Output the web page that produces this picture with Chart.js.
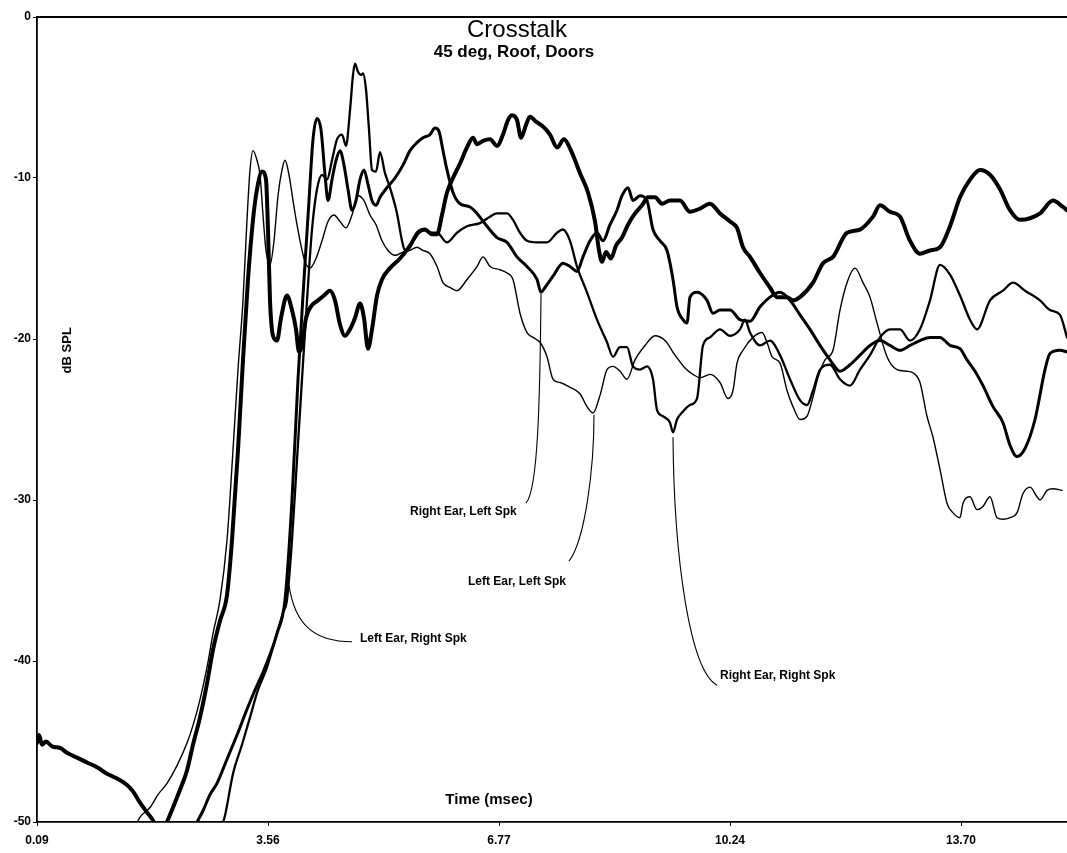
<!DOCTYPE html>
<html><head><meta charset="utf-8">
<script src="https://cdn.jsdelivr.net/npm/chart.js@4/dist/chart.umd.min.js"></script>
<style>html,body{margin:0;padding:0;background:#fff}#wrap{width:1067px;height:853px;position:relative}</style>
</head><body><div id="wrap"><canvas id="c"></canvas></div>
<script>
// Tick labels of the time axis (one label every samplesPerLabel samples)
const tickLabels = ['0.09', '3.56', '6.77', '10.24', '13.70'];
const samplesPerLabel = 231;
const sampleCount = 1030;
const yTickValues = [0, -10, -20, -30, -40, -50];

// Series: [sample index, dB SPL]
const leftEarRightSpk = [[0,-45.1],[2,-44.6],[5,-45.2],[9,-45.0],[15,-45.3],[23,-45.4],[30,-45.7],[40,-46.0],[50,-46.3],[60,-46.6],[70,-47.0],[80,-47.3],[90,-47.7],[96,-48.1],[103,-48.8],[110,-49.4],[116,-49.9],[121,-50.6],[126,-50.6],[130,-50.0],[136,-49.1],[143,-48.0],[150,-46.8],[156,-45.2],[163,-43.5],[170,-41.4],[176,-39.3],[183,-37.5],[190,-35.9],[195,-32.5],[201,-26.9],[206,-21.3],[211,-16.3],[216,-12.6],[220,-10.7],[225,-9.6],[229,-10.1],[231,-13.2],[233,-17.6],[236,-19.8],[240,-20.1],[244,-18.7],[250,-17.3],[255,-18.2],[259,-19.4],[262,-20.8],[265,-20.4],[269,-18.7],[275,-17.9],[281,-17.6],[287,-17.3],[293,-17.0],[298,-17.6],[303,-19.1],[308,-19.8],[313,-19.4],[318,-18.7],[323,-17.8],[327,-18.7],[331,-20.6],[335,-19.4],[340,-17.3],[345,-16.3],[353,-15.6],[363,-15.0],[373,-14.2],[381,-13.4],[388,-13.2],[395,-13.5],[400,-13.5],[405,-12.3],[410,-10.9],[416,-10.0],[423,-9.1],[430,-8.1],[436,-7.5],[440,-7.9],[446,-7.7],[453,-7.6],[460,-8.0],[466,-7.3],[471,-6.4],[475,-6.1],[480,-6.4],[484,-7.5],[489,-6.7],[493,-6.2],[499,-6.5],[506,-6.8],[513,-7.3],[520,-8.1],[527,-7.6],[534,-8.3],[543,-9.7],[551,-10.9],[558,-12.7],[562,-14.5],[565,-15.2],[569,-14.6],[574,-15.0],[579,-14.2],[585,-13.7],[591,-12.9],[598,-12.2],[605,-11.7],[611,-11.2],[618,-11.2],[625,-11.6],[633,-11.4],[643,-11.4],[653,-12.1],[663,-11.9],[673,-11.6],[683,-12.2],[693,-12.7],[700,-13.1],[706,-14.3],[713,-14.9],[723,-15.9],[733,-16.8],[740,-17.4],[750,-17.4],[756,-17.6],[763,-17.4],[776,-16.5],[786,-15.3],[796,-14.9],[810,-13.4],[823,-13.2],[836,-12.4],[843,-11.7],[853,-12.1],[863,-12.4],[873,-13.9],[883,-14.7],[893,-14.5],[903,-14.3],[913,-13.0],[923,-11.2],[933,-10.1],[943,-9.5],[953,-9.8],[963,-10.7],[973,-12.0],[983,-12.6],[993,-12.5],[1003,-12.2],[1016,-11.4],[1026,-11.8],[1030,-12.0]];

const rightEarLeftSpk = [[155,-50.6],[160,-50.0],[166,-49.3],[173,-48.3],[180,-47.6],[190,-46.1],[200,-44.6],[210,-43.0],[218,-41.8],[226,-40.7],[233,-39.6],[240,-38.3],[248,-36.2],[255,-30.0],[261,-22.5],[267,-16.3],[272,-11.4],[276,-7.6],[280,-6.3],[284,-7.0],[288,-9.8],[291,-11.4],[295,-10.1],[299,-8.9],[303,-8.3],[307,-9.2],[311,-10.7],[315,-12.0],[319,-11.4],[323,-10.1],[327,-9.5],[331,-10.4],[335,-11.4],[339,-11.7],[343,-11.2],[350,-10.6],[358,-10.0],[366,-9.2],[373,-8.3],[380,-7.8],[386,-7.5],[393,-7.3],[398,-6.9],[402,-7.1],[406,-8.3],[410,-9.5],[416,-10.9],[423,-11.6],[433,-11.8],[440,-12.2],[450,-13.0],[460,-13.7],[470,-14.0],[480,-14.9],[490,-15.5],[500,-16.3],[504,-17.1],[508,-16.8],[516,-16.1],[526,-15.3],[533,-15.5],[540,-15.8],[546,-14.9],[553,-13.9],[560,-13.4],[566,-13.9],[573,-12.9],[580,-12.0],[585,-11.1],[591,-10.6],[596,-11.4],[603,-11.1],[610,-11.4],[616,-13.2],[623,-13.9],[630,-14.5],[636,-16.3],[640,-18.0],[646,-18.8],[650,-19.0],[653,-17.4],[660,-17.1],[670,-17.6],[676,-18.4],[683,-18.2],[693,-18.2],[703,-18.8],[713,-18.9],[723,-18.0],[733,-17.4],[743,-17.1],[753,-17.6],[763,-18.5],[773,-19.4],[783,-20.4],[793,-21.3],[803,-22.0],[813,-21.6],[823,-21.0],[833,-20.4],[843,-20.1],[853,-20.4],[863,-20.7],[873,-20.4],[883,-20.1],[893,-19.9],[903,-19.9],[913,-20.4],[923,-20.6],[930,-21.3],[938,-22.0],[946,-22.9],[956,-24.2],[966,-25.2],[973,-26.6],[980,-27.3],[988,-26.8],[998,-25.0],[1008,-21.9],[1013,-20.9],[1023,-20.7],[1030,-20.8]];

const rightEarRightSpk = [[183,-50.6],[188,-49.6],[196,-47.0],[205,-45.2],[213,-43.5],[221,-41.8],[230,-40.4],[238,-38.7],[246,-37.0],[250,-36.2],[255,-32.5],[260,-27.5],[265,-22.5],[270,-17.6],[275,-13.2],[280,-10.7],[285,-9.8],[290,-10.1],[295,-8.9],[300,-7.6],[305,-7.3],[309,-8.0],[313,-5.8],[316,-3.6],[318,-2.9],[321,-3.4],[324,-3.6],[326,-3.5],[329,-4.5],[332,-7.0],[335,-9.5],[339,-9.6],[343,-8.4],[348,-9.7],[353,-10.6],[360,-12.2],[365,-13.9],[368,-14.5],[373,-14.3],[380,-13.4],[386,-13.2],[393,-13.4],[400,-13.4],[410,-14.0],[420,-13.4],[430,-13.0],[443,-12.8],[453,-12.4],[460,-12.2],[470,-12.2],[476,-12.6],[483,-13.4],[490,-13.9],[500,-14.0],[510,-14.0],[520,-13.4],[526,-13.2],[533,-13.9],[540,-15.5],[550,-17.1],[560,-18.8],[570,-20.2],[576,-21.1],[583,-20.5],[590,-20.5],[596,-21.7],[603,-21.9],[610,-21.7],[616,-22.5],[620,-24.4],[626,-24.8],[633,-25.2],[636,-25.8],[640,-25.0],[646,-24.5],[653,-24.1],[660,-23.7],[666,-20.4],[673,-19.9],[683,-19.4],[693,-19.8],[703,-19.4],[708,-18.8],[713,-19.6],[723,-20.4],[733,-20.1],[743,-21.0],[753,-22.5],[763,-23.8],[770,-24.1],[776,-23.2],[783,-21.9],[793,-21.6],[803,-22.5],[813,-22.9],[823,-21.9],[833,-21.0],[843,-19.9],[853,-19.4],[863,-19.4],[873,-20.1],[883,-19.4],[893,-17.6],[903,-15.4],[913,-16.0],[923,-17.3],[933,-18.8],[940,-19.4],[953,-17.6],[966,-17.0],[976,-16.5],[988,-17.0],[1003,-17.6],[1013,-18.2],[1023,-18.5],[1030,-19.9]];

const leftEarLeftSpk = [[96,-50.6],[103,-49.7],[113,-49.1],[121,-48.3],[130,-47.6],[140,-46.5],[150,-45.1],[156,-44.0],[163,-42.4],[170,-40.4],[176,-38.3],[183,-36.2],[190,-32.5],[196,-26.9],[201,-21.9],[206,-17.6],[210,-12.6],[213,-9.5],[216,-8.3],[220,-8.9],[223,-9.8],[226,-12.3],[229,-14.5],[233,-15.4],[237,-13.9],[241,-11.1],[245,-9.5],[248,-8.9],[252,-9.8],[256,-11.4],[260,-12.9],[264,-14.2],[268,-15.2],[273,-15.6],[279,-15.0],[285,-13.9],[291,-12.7],[297,-12.3],[303,-12.7],[309,-13.1],[315,-12.3],[321,-11.1],[327,-11.4],[333,-12.3],[339,-12.9],[345,-13.9],[351,-14.5],[358,-14.8],[366,-14.6],[373,-14.5],[380,-14.3],[386,-14.5],[393,-14.7],[400,-15.5],[406,-16.5],[413,-16.8],[420,-17.0],[430,-16.3],[440,-15.5],[446,-14.9],[453,-15.5],[463,-15.7],[470,-15.9],[476,-16.3],[483,-18.4],[490,-19.6],[496,-19.9],[503,-20.2],[510,-21.1],[516,-22.5],[523,-22.7],[533,-23.0],[543,-23.4],[550,-24.2],[556,-24.6],[563,-23.5],[570,-21.9],[576,-21.7],[583,-22.0],[590,-22.5],[598,-21.3],[608,-20.4],[618,-19.8],[628,-20.1],[638,-21.0],[648,-21.8],[656,-22.2],[663,-22.4],[673,-22.2],[683,-22.7],[691,-23.7],[696,-23.2],[700,-21.5],[706,-20.7],[716,-19.9],[725,-19.6],[730,-20.2],[735,-21.1],[743,-21.5],[750,-23.2],[756,-24.2],[763,-25.0],[770,-24.8],[776,-23.6],[781,-22.4],[788,-21.3],[796,-20.7],[803,-18.2],[810,-16.5],[818,-15.6],[826,-16.5],[833,-17.4],[840,-19.0],[850,-21.1],[860,-21.9],[870,-22.0],[876,-22.1],[883,-22.7],[890,-24.8],[896,-26.1],[903,-28.1],[910,-30.2],[916,-30.8],[923,-31.1],[926,-30.2],[933,-29.8],[940,-30.6],[946,-30.4],[953,-29.8],[960,-31.1],[966,-31.2],[973,-31.1],[980,-30.8],[986,-29.6],[993,-29.2],[1000,-29.8],[1003,-30.0],[1010,-29.4],[1016,-29.3],[1025,-29.4]];

// Callout labels with their leader curves, in data units [sample, dB]
const callouts = [
  { text: 'Right Ear, Left Spk',  at: [373, -30.7], from: [489, -30.2], c1: [501, -29.4], c2: [503, -23.8], to: [504, -17.2] },
  { text: 'Left Ear, Left Spk',   at: [431, -35.1], from: [532, -33.8], c1: [548, -32.5], c2: [557, -28.1], to: [557, -24.7] },
  { text: 'Left Ear, Right Spk',  at: [323, -38.6], from: [315, -38.8], c1: [278, -38.8], c2: [258, -37.8], to: [252, -35.3] },
  { text: 'Right Ear, Right Spk', at: [683, -40.9], from: [680, -41.5], c1: [653, -40.6], c2: [637, -33.7], to: [636, -26.1] }
];

const FONT = "'Liberation Sans', Arial, Helvetica, sans-serif";

const decor = {
  id: 'decor',
  afterDraw(chart) {
    const { ctx, chartArea: a, scales: { x, y } } = chart;
    const P = p => [x.getPixelForValue(p[0]), y.getPixelForValue(p[1])];
    ctx.save();
    ctx.strokeStyle = '#000';
    ctx.fillStyle = '#000';
    ctx.lineWidth = 1.8;
    ctx.beginPath(); ctx.moveTo(a.left, a.top); ctx.lineTo(a.right, a.top); ctx.stroke();
    ctx.lineWidth = 1.1;
    callouts.forEach(c => {
      const f = P(c.from), c1 = P(c.c1), c2 = P(c.c2), t = P(c.to);
      ctx.beginPath(); ctx.moveTo(f[0], f[1]);
      ctx.bezierCurveTo(c1[0], c1[1], c2[0], c2[1], t[0], t[1]);
      ctx.stroke();
      ctx.font = 'bold 12px ' + FONT;
      ctx.textAlign = 'left'; ctx.textBaseline = 'middle';
      const tp = P(c.at);
      ctx.fillText(c.text, tp[0], tp[1]);
    });
    // axis titles inside the plot
    const yt = P([30, -20.7]);
    ctx.save();
    ctx.translate(yt[0], yt[1]); ctx.rotate(-Math.PI / 2);
    ctx.font = 'bold 13px ' + FONT; ctx.textAlign = 'center'; ctx.textBaseline = 'middle';
    ctx.fillText('dB SPL', 0, 0);
    ctx.restore();
    const xt = P([452, -48.6]);
    ctx.font = 'bold 15px ' + FONT; ctx.textAlign = 'center'; ctx.textBaseline = 'middle';
    ctx.fillText('Time (msec)', xt[0], xt[1]);
    // title
    ctx.textAlign = 'center'; ctx.textBaseline = 'alphabetic';
    ctx.font = '24px ' + FONT;
    ctx.fillText('Crosstalk', 517, 37);
    ctx.font = 'bold 17px ' + FONT;
    ctx.fillText('45 deg, Roof, Doors', 514, 57);
    ctx.restore();
  }
};

const mk = (label, arr, w) => ({
  label, data: arr.map(([sx, db]) => ({ x: sx, y: db })),
  borderColor: '#000', backgroundColor: '#000', borderWidth: w,
  pointRadius: 0, cubicInterpolationMode: 'monotone',
  borderJoinStyle: 'round', borderCapStyle: 'round', fill: false
});

new Chart(document.getElementById('c'), {
  type: 'line',
  data: {
    datasets: [
      mk('Left Ear, Right Spk', leftEarRightSpk, 4),
      mk('Right Ear, Left Spk', rightEarLeftSpk, 3),
      mk('Right Ear, Right Spk', rightEarRightSpk, 2.3),
      mk('Left Ear, Left Spk', leftEarLeftSpk, 1.4)
    ]
  },
  options: {
    responsive: true, maintainAspectRatio: false, animation: false,
    devicePixelRatio: 1,
    layout: { padding: { top: 17, left: 0, right: 0, bottom: 0 } },
    plugins: { legend: { display: false }, tooltip: { enabled: false }, title: { display: false } },
    scales: {
      x: {
        type: 'linear', min: 0, max: sampleCount,
        afterBuildTicks: s => { s.ticks = tickLabels.map((_, i) => ({ value: i * samplesPerLabel })); },
        afterFit: s => { s.height = 31; },
        ticks: { autoSkip: false, maxRotation: 0, padding: 7, color: '#000',
          font: { family: FONT, size: 12, weight: 'bold' },
          callback: v => tickLabels[Math.round(v / samplesPerLabel)] ?? '' },
        grid: { drawOnChartArea: false, drawTicks: true, tickLength: 4, color: '#000' },
        border: { display: true, color: '#000', width: 1.8 }
      },
      y: {
        min: -50, max: 0,
        afterBuildTicks: s => { s.ticks = yTickValues.map(v => ({ value: v })); },
        afterFit: s => { s.width = 37; },
        ticks: { padding: 2, color: '#000', font: { family: FONT, size: 12, weight: 'bold' },
          callback: v => String(v) },
        grid: { drawOnChartArea: false, drawTicks: true, tickLength: 4, color: '#000' },
        border: { display: true, color: '#000', width: 1.8 }
      }
    }
  },
  plugins: [decor]
});
</script></body></html>
